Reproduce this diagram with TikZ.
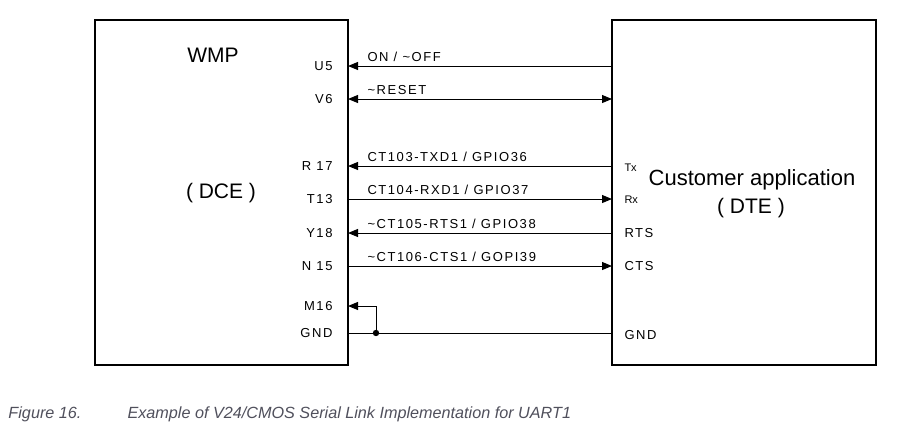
\documentclass[tikz,border=0pt]{standalone}
\usepackage{fontspec}
\setmainfont{Liberation Sans}
\newfontfamily\pinfont[LetterSpace=12]{Liberation Sans}
\usetikzlibrary{arrows.meta}
\definecolor{capgray}{RGB}{80,80,92}
\begin{document}
\begin{tikzpicture}
[x=1pt,y=-1pt,line width=1pt,>={Triangle[length=10pt,width=8pt]},
box/.style={draw,line width=2.2pt,inner sep=0,outer sep=0,anchor=north west},
pin/.style={font=\pinfont\fontsize{13}{13}\selectfont,inner sep=0},
sig/.style={pin,anchor=base west},
big/.style={font=\fontsize{21}{21}\selectfont,inner sep=0},
figcap/.style={font=\itshape\fontsize{16.2}{16.2}\selectfont,text=capgray,
  inner sep=0,anchor=base west}]
\useasboundingbox (0,0) rectangle (900,426);
\node[box,minimum width=253pt,minimum height=345pt] (dce) at (95,20) {};
\node[box,minimum width=264pt,minimum height=345pt] (dte) at (612,20) {};
\node[big] (wmp) at (213,55) {WMP};
\node[big] (dcetxt) at (221,193) {( DCE )};
\node[big,font=\fontsize{22}{22}\selectfont] (cust) at (752,180) {Customer application};
\node[big] (dtetxt) at (751,208) {( DTE )};
% pins on the DCE side
\foreach \n/\y/\t in {u5/66/U5,v6/99/V6,r17/166/R 17,t13/199/T13,
  y18/233/Y18,n15/266/N 15,m16/306/M16,gnd/333/GND}
  \node[pin,anchor=east] (\n) at (333,\y) {\t};
% pins on the DTE side
\node[pin,font=\fontsize{11}{11}\selectfont,anchor=west] (tx) at (624,168) {Tx};
\node[pin,font=\fontsize{11}{11}\selectfont,anchor=west] (rx) at (624,200) {Rx};
\node[pin,anchor=west] (rts) at (624,233) {RTS};
\node[pin,anchor=west] (cts) at (624,266) {CTS};
\node[pin,anchor=west] (dgnd) at (624,335) {GND};
% signal names
\node[sig] (son) at (367,61) {ON / \textasciitilde OFF};
\node[sig] (sres) at (367,94) {\textasciitilde RESET};
\node[sig] (stxd) at (367,161) {CT103-TXD1 / GPIO36};
\node[sig] (srxd) at (367,194) {CT104-RXD1 / GPIO37};
\node[sig] (srts) at (367,228) {\textasciitilde CT105-RTS1 / GPIO38};
\node[sig] (scts) at (367,261) {\textasciitilde CT106-CTS1 / GOPI39};
% lines
\draw[->] (dte.west |- u5) -- (dce.east |- u5);
\draw[<->] (dce.east |- v6) -- (dte.west |- v6);
\draw[->] (dte.west |- r17) -- (dce.east |- r17);
\draw[->] (dce.east |- t13) -- (dte.west |- t13);
\draw[->] (dte.west |- y18) -- (dce.east |- y18);
\draw[->] (dce.east |- n15) -- (dte.west |- n15);
\draw (dce.east |- gnd) -- (dte.west |- gnd);
\coordinate (jn) at (376,333);
\draw[->] (jn) |- (dce.east |- m16);
\fill (jn) circle (3.2pt);
% caption
\node[figcap] (fig) at (8,418) {Figure 16.};
\node[figcap] (captxt) at (127,418) {Example of V24/CMOS Serial Link Implementation for UART1};
\end{tikzpicture}
\end{document}
